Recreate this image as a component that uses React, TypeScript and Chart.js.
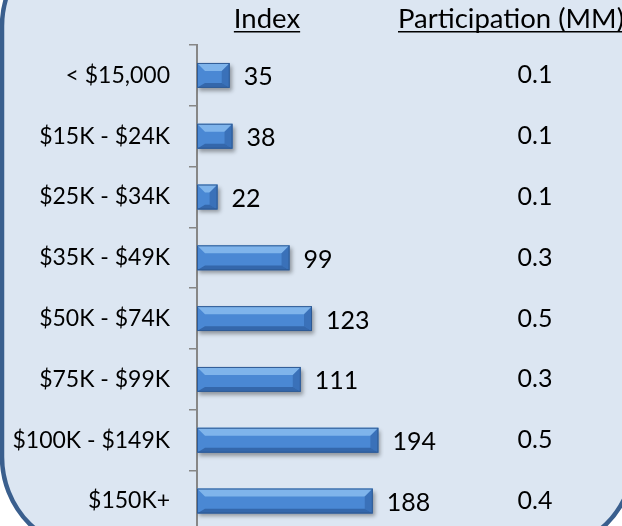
import React, { useEffect, useRef } from 'react';
import { Chart, registerables } from 'chart.js';

Chart.register(...registerables);

const categories = ['< $15,000', '$15K - $24K', '$25K - $34K', '$35K - $49K', '$50K - $74K', '$75K - $99K', '$100K - $149K', '$150K+'];
const indexValues = [35, 38, 22, 99, 123, 111, 194, 188];
const participationValues = ['0.1', '0.1', '0.1', '0.3', '0.5', '0.3', '0.5', '0.4'];
const indexHeader = 'Index';
const participationHeader = 'Participation (MM)';

const FONT = 'Lato, "Open Sans", sans-serif';
const W = 622;
const H = 570;

const backgroundPlugin = {
  id: 'roundedBg',
  beforeDraw(chart: any) {
    const ctx = chart.ctx;
    ctx.save();
    ctx.fillStyle = '#ffffff';
    ctx.fillRect(0, 0, chart.width, chart.height);
    const x0 = 2, y0 = -69, x1 = 634, y1 = 552, r = 95;
    ctx.beginPath();
    ctx.moveTo(x0 + r, y0);
    ctx.lineTo(x1 - r, y0);
    ctx.arcTo(x1, y0, x1, y0 + r, r);
    ctx.lineTo(x1, y1 - r);
    ctx.arcTo(x1, y1, x1 - r, y1, r);
    ctx.lineTo(x0 + r, y1);
    ctx.arcTo(x0, y1, x0, y1 - r, r);
    ctx.lineTo(x0, y0 + r);
    ctx.arcTo(x0, y0, x0 + r, y0, r);
    ctx.closePath();
    ctx.fillStyle = '#DCE6F2';
    ctx.fill();
    ctx.lineWidth = 4.5;
    ctx.strokeStyle = '#3A5F8E';
    ctx.stroke();
    ctx.restore();
  },
};

const shadowPlugin = {
  id: 'barShadow',
  beforeDatasetsDraw(chart: any) {
    const ctx = chart.ctx;
    ctx.save();
    ctx.shadowColor = 'rgba(0,0,0,0.35)';
    ctx.shadowBlur = 4;
    ctx.shadowOffsetX = 2;
    ctx.shadowOffsetY = 3;
  },
  afterDatasetsDraw(chart: any) {
    const ctx = chart.ctx;
    ctx.restore();
    const meta = chart.getDatasetMeta(0);
    meta.data.forEach((el: any, i: number) => {
      const p = el.getProps(['x', 'y', 'base', 'height'], true);
      const left = Math.min(p.base, p.x);
      const right = Math.max(p.base, p.x);
      const top = p.y - p.height / 2;
      const bottom = p.y + p.height / 2;
      const d = Math.min(8, (right - left) / 2, p.height / 2);
      ctx.save();
      // top facet
      ctx.beginPath();
      ctx.moveTo(left, top);
      ctx.lineTo(right, top);
      ctx.lineTo(right - d, top + d);
      ctx.lineTo(left + d, top + d);
      ctx.closePath();
      ctx.fillStyle = 'rgba(150,200,245,0.7)';
      ctx.fill();
      // bottom facet
      ctx.beginPath();
      ctx.moveTo(left, bottom);
      ctx.lineTo(right, bottom);
      ctx.lineTo(right - d, bottom - d * 0.6);
      ctx.lineTo(left + d, bottom - d * 0.6);
      ctx.closePath();
      ctx.fillStyle = 'rgba(30,70,130,0.5)';
      ctx.fill();
      // right facet
      ctx.beginPath();
      ctx.moveTo(right, top);
      ctx.lineTo(right, bottom);
      ctx.lineTo(right - d, bottom - d * 0.6);
      ctx.lineTo(right - d, top + d);
      ctx.closePath();
      ctx.fillStyle = 'rgba(35,80,145,0.4)';
      ctx.fill();
      ctx.strokeStyle = '#2E5A94';
      ctx.lineWidth = 1;
      ctx.strokeRect(left + 0.5, top + 0.5, right - left - 1, bottom - top - 1);
      ctx.restore();

      // index value label
      ctx.save();
      ctx.fillStyle = '#000';
      ctx.font = `25px ${FONT}`;
      ctx.textAlign = 'left';
      ctx.textBaseline = 'middle';
      ctx.fillText(String(indexValues[i]), right + 14, p.y + 2);
      // participation
      ctx.textAlign = 'center';
      ctx.fillText(participationValues[i], 535, p.y);
      ctx.restore();
    });

    // headers
    ctx.save();
    ctx.fillStyle = '#000';
    ctx.font = `27.5px ${FONT}`;
    ctx.textBaseline = 'alphabetic';
    ctx.textAlign = 'center';
    const ix = 267;
    ctx.fillText(indexHeader, ix, 28);
    const iw = ctx.measureText(indexHeader).width;
    ctx.textAlign = 'left';
    const px = 398;
    ctx.fillText(participationHeader, px, 28);
    const pw = ctx.measureText(participationHeader).width;
    ctx.fillRect(ix - iw / 2, 31, iw, 1.5);
    ctx.fillRect(px, 31, pw, 1.5);
    ctx.restore();
  },
};

export default function App() {
  const ref = useRef<HTMLCanvasElement | null>(null);
  useEffect(() => {
    if (!ref.current) return;
    const chart = new Chart(ref.current, {
      type: 'bar',
      data: {
        labels: categories,
        datasets: [
          {
            data: indexValues,
            backgroundColor: (c: any) => {
              const el = c.element;
              const ctx = c.chart.ctx;
              if (!el || el.y == null) return '#4A88D4';
              const top = el.y - el.height / 2;
              const g = ctx.createLinearGradient(0, top, 0, top + el.height);
              g.addColorStop(0, '#7DB6EE');
              g.addColorStop(0.3, '#4E8DD8');
              g.addColorStop(0.7, '#3F7CC8');
              g.addColorStop(1, '#2E62A6');
              return g;
            },
            borderWidth: 0,
            categoryPercentage: 1,
            barPercentage: 0.41,
          },
        ],
      },
      options: {
        indexAxis: 'y',
        animation: false,
        responsive: false,
        maintainAspectRatio: false,
        layout: { padding: { top: 45, bottom: H - 531.4, right: W - 384, left: 0 } },
        plugins: { legend: { display: false }, tooltip: { enabled: false }, title: { display: false } },
        scales: {
          x: { display: false, min: 0, max: 200 },
          y: {
            afterFit: (s: any) => {
              s.width = 197;
            },
            grid: {
              display: true,
              drawOnChartArea: false,
              drawTicks: true,
              tickLength: 8,
              offset: true,
              color: '#878787',
              lineWidth: 1.5,
            },
            border: { display: true, color: '#878787', width: 2 },
            ticks: {
              padding: 19,
              color: '#000',
              font: { family: FONT, size: 23 },
            },
          },
        },
      },
      plugins: [backgroundPlugin, shadowPlugin],
    });
    return () => chart.destroy();
  }, []);
  return (
    <div style={{ position: 'fixed', left: 0, top: 0, width: W, height: 526, overflow: 'hidden' }}>
      <canvas ref={ref} width={W} height={H} style={{ width: W, height: H, display: 'block' }} />
    </div>
  );
}
